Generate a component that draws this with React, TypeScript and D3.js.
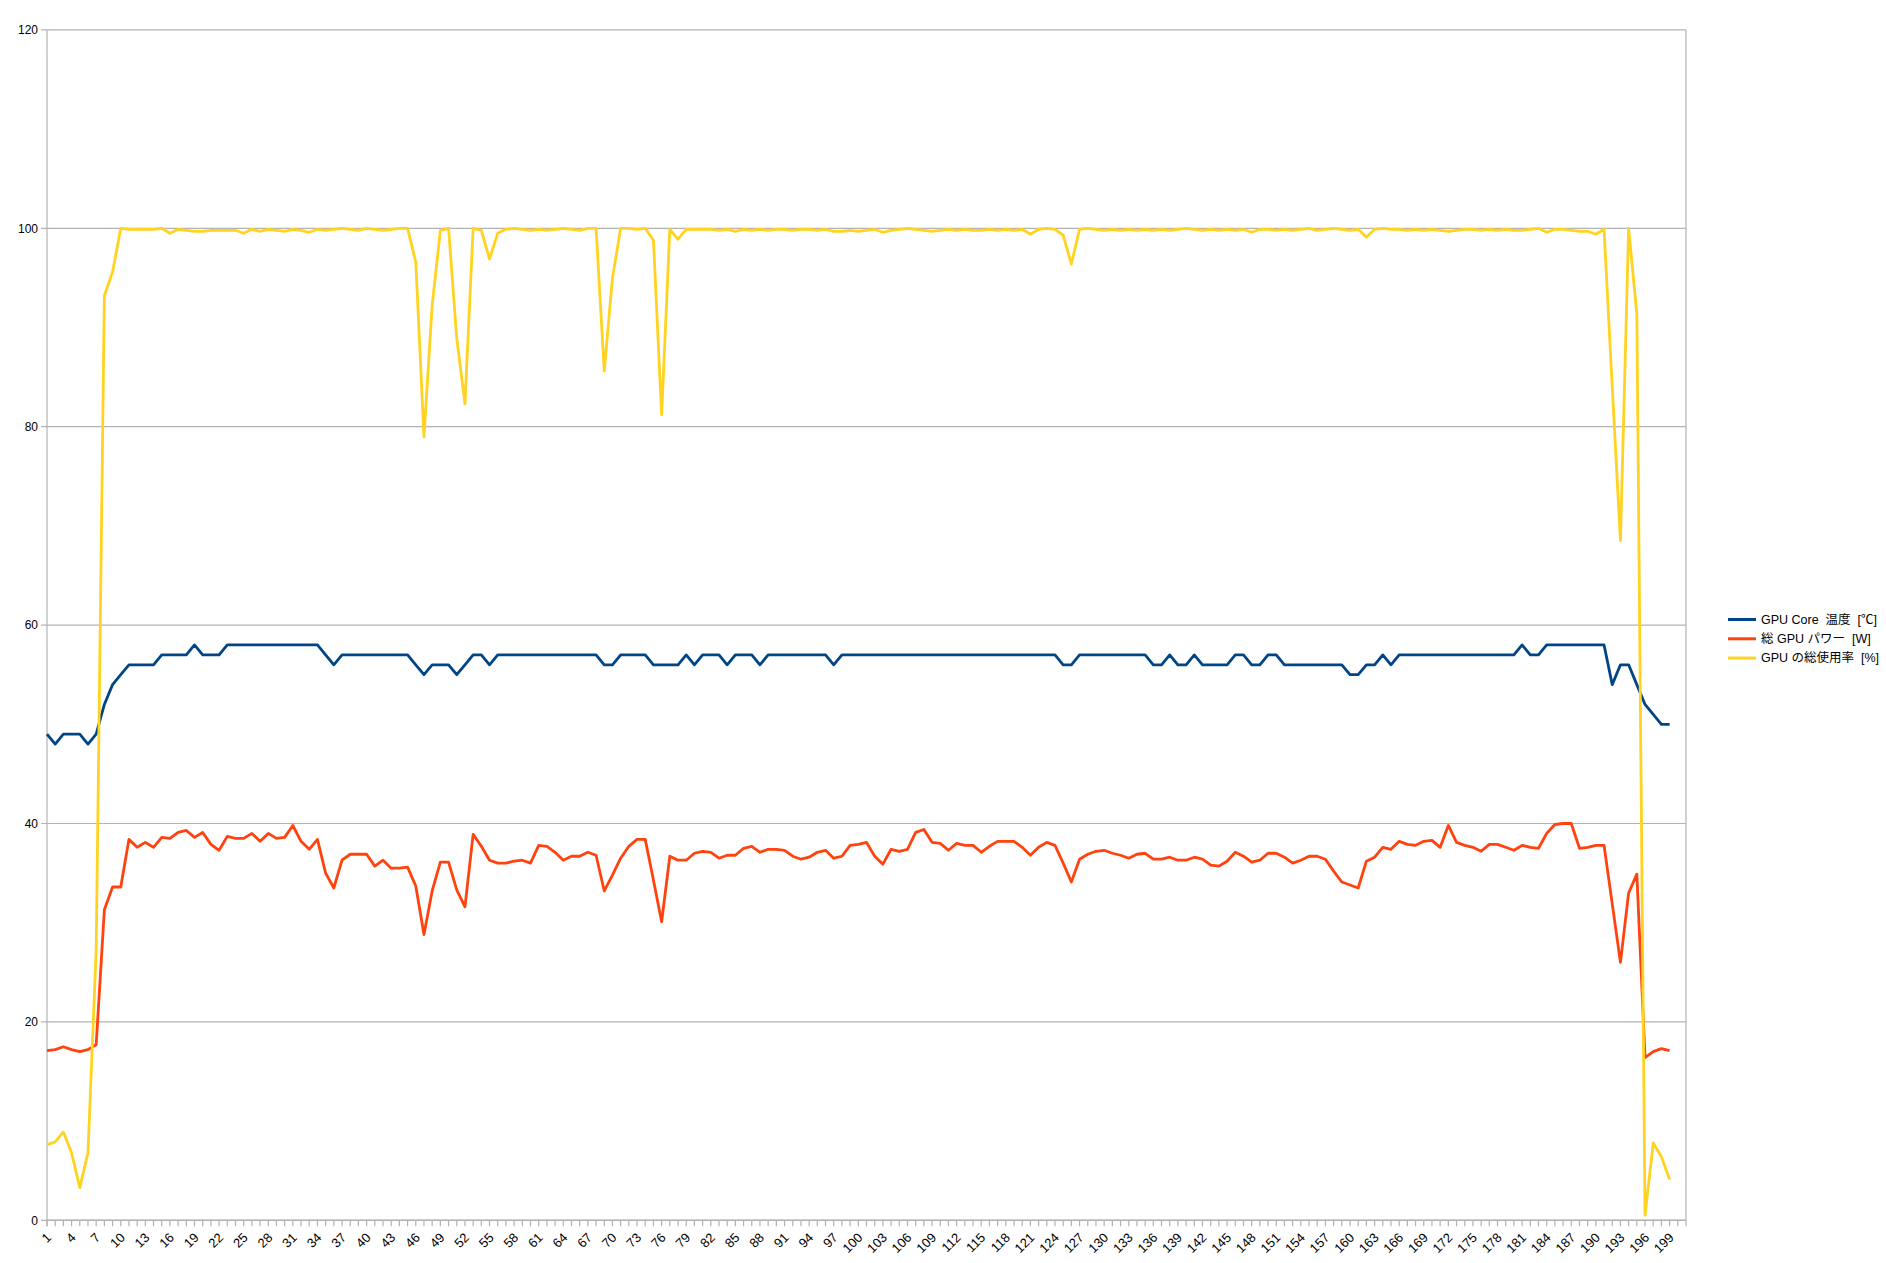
import React from "react";
import * as d3 from "d3";

const categories: number[] = Array.from({ length: 201 }, (_, i) => i + 1);

const tempValues: number[] = [
  49, 48, 49, 49, 49, 48, 49, 52, 54, 55,
  56, 56, 56, 56, 57, 57, 57, 57, 58, 57,
  57, 57, 58, 58, 58, 58, 58, 58, 58, 58,
  58, 58, 58, 58, 57, 56, 57, 57, 57, 57,
  57, 57, 57, 57, 57, 56, 55, 56, 56, 56,
  55, 56, 57, 57, 56, 57, 57, 57, 57, 57,
  57, 57, 57, 57, 57, 57, 57, 57, 56, 56,
  57, 57, 57, 57, 56, 56, 56, 56, 57, 56,
  57, 57, 57, 56, 57, 57, 57, 56, 57, 57,
  57, 57, 57, 57, 57, 57, 56, 57, 57, 57,
  57, 57, 57, 57, 57, 57, 57, 57, 57, 57,
  57, 57, 57, 57, 57, 57, 57, 57, 57, 57,
  57, 57, 57, 57, 56, 56, 57, 57, 57, 57,
  57, 57, 57, 57, 57, 56, 56, 57, 56, 56,
  57, 56, 56, 56, 56, 57, 57, 56, 56, 57,
  57, 56, 56, 56, 56, 56, 56, 56, 56, 55,
  55, 56, 56, 57, 56, 57, 57, 57, 57, 57,
  57, 57, 57, 57, 57, 57, 57, 57, 57, 57,
  58, 57, 57, 58, 58, 58, 58, 58, 58, 58,
  58, 54, 56, 56, 54, 52, 51, 50, 50,
];

const powerValues: number[] = [
  17.1, 17.2, 17.5, 17.2, 17.0, 17.2, 17.7, 31.3, 33.6, 33.6,
  38.4, 37.6, 38.1, 37.6, 38.6, 38.5, 39.1, 39.3, 38.6, 39.1,
  37.9, 37.3, 38.7, 38.5, 38.5, 39.0, 38.2, 39.0, 38.5, 38.6,
  39.8, 38.2, 37.4, 38.4, 35.0, 33.5, 36.3, 36.9, 36.9, 36.9,
  35.7, 36.3, 35.5, 35.5, 35.6, 33.7, 28.8, 33.2, 36.1, 36.1,
  33.3, 31.6, 38.9, 37.7, 36.3, 36.0, 36.0, 36.2, 36.3, 36.0,
  37.8, 37.7, 37.1, 36.3, 36.7, 36.7, 37.1, 36.8, 33.2, 34.8,
  36.5, 37.7, 38.4, 38.4, 34.3, 30.1, 36.7, 36.3, 36.3, 37.0,
  37.2, 37.1, 36.5, 36.8, 36.8, 37.5, 37.7, 37.1, 37.4, 37.4,
  37.3, 36.7, 36.4, 36.6, 37.1, 37.3, 36.5, 36.7, 37.8, 37.9,
  38.1, 36.7, 35.9, 37.4, 37.2, 37.4, 39.1, 39.4, 38.1, 38.0,
  37.3, 38.0, 37.8, 37.8, 37.1, 37.7, 38.2, 38.2, 38.2, 37.6,
  36.8, 37.6, 38.1, 37.8, 36.0, 34.1, 36.4, 36.9, 37.2, 37.3,
  37.0, 36.8, 36.5, 36.9, 37.0, 36.4, 36.4, 36.6, 36.3, 36.3,
  36.6, 36.4, 35.8, 35.7, 36.2, 37.1, 36.7, 36.1, 36.3, 37.0,
  37.0, 36.6, 36.0, 36.3, 36.7, 36.7, 36.4, 35.2, 34.1, 33.8,
  33.5, 36.2, 36.6, 37.6, 37.4, 38.2, 37.9, 37.8, 38.2, 38.3,
  37.6, 39.8, 38.1, 37.8, 37.6, 37.2, 37.9, 37.9, 37.6, 37.3,
  37.8, 37.6, 37.5, 39.0, 39.9, 40.0, 40.0, 37.5, 37.6, 37.8,
  37.8, 31.9, 26.0, 33.0, 34.9, 16.4, 17.0, 17.3, 17.1,
];

const usageValues: number[] = [
  7.6, 7.9, 8.9, 6.8, 3.3, 6.8, 27.2, 93.2, 95.6, 100,
  99.9, 99.9, 99.9, 99.9, 100, 99.5, 99.9, 99.8, 99.7, 99.7,
  99.8, 99.8, 99.8, 99.8, 99.5, 99.9, 99.7, 99.9, 99.8, 99.7,
  99.9, 99.8, 99.6, 99.9, 99.8, 99.9, 100, 99.9, 99.8, 100,
  99.9, 99.8, 99.9, 100, 100, 96.6, 79.0, 92.2, 99.8, 100,
  88.9, 82.3, 100, 99.8, 96.9, 99.5, 99.9, 100, 99.9, 99.8,
  99.9, 99.8, 99.9, 100, 99.9, 99.8, 100, 100, 85.6, 95.0,
  100, 100, 99.9, 100, 98.8, 81.2, 99.9, 98.9, 99.9, 99.9,
  99.9, 99.9, 99.8, 99.9, 99.7, 99.9, 99.8, 99.9, 99.8, 99.9,
  99.9, 99.8, 99.9, 99.9, 99.8, 99.9, 99.7, 99.7, 99.8, 99.7,
  99.8, 99.9, 99.6, 99.8, 99.9, 100, 99.9, 99.8, 99.7, 99.8,
  99.9, 99.8, 99.9, 99.8, 99.8, 99.9, 99.8, 99.9, 99.8, 99.9,
  99.4, 99.9, 100, 99.9, 99.3, 96.4, 99.9, 100, 99.9, 99.8,
  99.9, 99.8, 99.9, 99.8, 99.9, 99.8, 99.9, 99.8, 99.9, 100,
  99.9, 99.8, 99.9, 99.8, 99.9, 99.8, 99.9, 99.6, 99.9, 99.9,
  99.8, 99.9, 99.8, 99.9, 100, 99.8, 99.9, 100, 99.9, 99.8,
  99.9, 99.1, 99.9, 100, 99.9, 99.9, 99.8, 99.9, 99.8, 99.9,
  99.8, 99.7, 99.8, 99.9, 99.9, 99.8, 99.9, 99.8, 99.9, 99.8,
  99.8, 99.9, 100, 99.6, 99.9, 99.9, 99.8, 99.7, 99.7, 99.4,
  99.9, 84.0, 68.5, 100, 91.4, 0.5, 7.8, 6.4, 4.1,
];

const yTicks: number[] = [0, 20, 40, 60, 80, 100, 120];
const xLabelEvery = 3;

const seriesNames: string[] = [
  "GPU Core  温度  [℃]",
  "総 GPU パワー  [W]",
  "GPU の総使用率  [%]",
];
const seriesColors: string[] = ["#004586", "#ff420e", "#ffd320"];

const W = 1886;
const H = 1263;
const plot = { left: 47, right: 1686, top: 29.9, bottom: 1220.3 };
const FONT = "'Liberation Sans', Arial, 'Noto Sans CJK JP', sans-serif";

export default function App() {
  const x = d3
    .scalePoint<number>()
    .domain(categories)
    .range([plot.left, plot.right]);
  const y = d3.scaleLinear().domain([0, 120]).range([plot.bottom, plot.top]);

  const line = d3
    .line<number>()
    .x((_, i) => x(categories[i]) as number)
    .y((d) => y(d));

  const series = [tempValues, powerValues, usageValues];

  return (
    <svg
      width={W}
      height={H}
      style={{ position: "absolute", left: 0, top: 0, background: "#fff" }}
      fontFamily={FONT}
    >
      <rect x={0} y={0} width={W} height={H} fill="#fff" />
      {yTicks.map((t) => (
        <line
          key={"g" + t}
          x1={plot.left - 6}
          x2={plot.right}
          y1={y(t)}
          y2={y(t)}
          stroke="#b3b3b3"
          strokeWidth={1.2}
        />
      ))}
      <line
        x1={plot.right}
        x2={plot.right}
        y1={plot.top}
        y2={plot.bottom}
        stroke="#b3b3b3"
        strokeWidth={1.2}
      />
      <line
        x1={plot.left}
        x2={plot.left}
        y1={plot.top}
        y2={plot.bottom + 6}
        stroke="#b3b3b3"
        strokeWidth={1.2}
      />
      {yTicks.map((t) => (
        <text
          key={"yl" + t}
          x={plot.left - 9}
          y={y(t)}
          dy="0.35em"
          textAnchor="end"
          fontSize={12}
          fill="#000"
        >
          {t}
        </text>
      ))}
      {categories.map((c) => (
        <line
          key={"xt" + c}
          x1={x(c)}
          x2={x(c)}
          y1={plot.bottom}
          y2={plot.bottom + 6}
          stroke="#b3b3b3"
          strokeWidth={1.2}
        />
      ))}
      <line
        x1={plot.left}
        x2={plot.right}
        y1={plot.bottom}
        y2={plot.bottom}
        stroke="#b3b3b3"
        strokeWidth={1.5}
      />
      {categories
        .filter((c) => (c - 1) % xLabelEvery === 0 && c <= 199)
        .map((c) => {
          const px = (x(c) as number) + 5;
          const py = plot.bottom + 18;
          return (
            <text
              key={"xl" + c}
              x={px}
              y={py}
              textAnchor="end"
              fontSize={13}
              fill="#000"
              transform={`rotate(-45 ${px} ${py})`}
            >
              {c}
            </text>
          );
        })}
      {series.map((vals, si) => (
        <path
          key={"s" + si}
          d={line(vals) || ""}
          fill="none"
          stroke={seriesColors[si]}
          strokeWidth={2.8}
          strokeLinejoin="round"
        />
      ))}
      {seriesNames.map((name, i) => {
        const ly = 619.5 + i * 19.3;
        return (
          <g key={"lg" + i}>
            <line
              x1={1728}
              x2={1756}
              y1={ly}
              y2={ly}
              stroke={seriesColors[i]}
              strokeWidth={3}
            />
            <text
              x={1761}
              y={ly}
              dy="0.35em"
              fontSize={12.5}
              fill="#000"
              style={{ whiteSpace: "pre" }}
            >
              {name}
            </text>
          </g>
        );
      })}
    </svg>
  );
}
